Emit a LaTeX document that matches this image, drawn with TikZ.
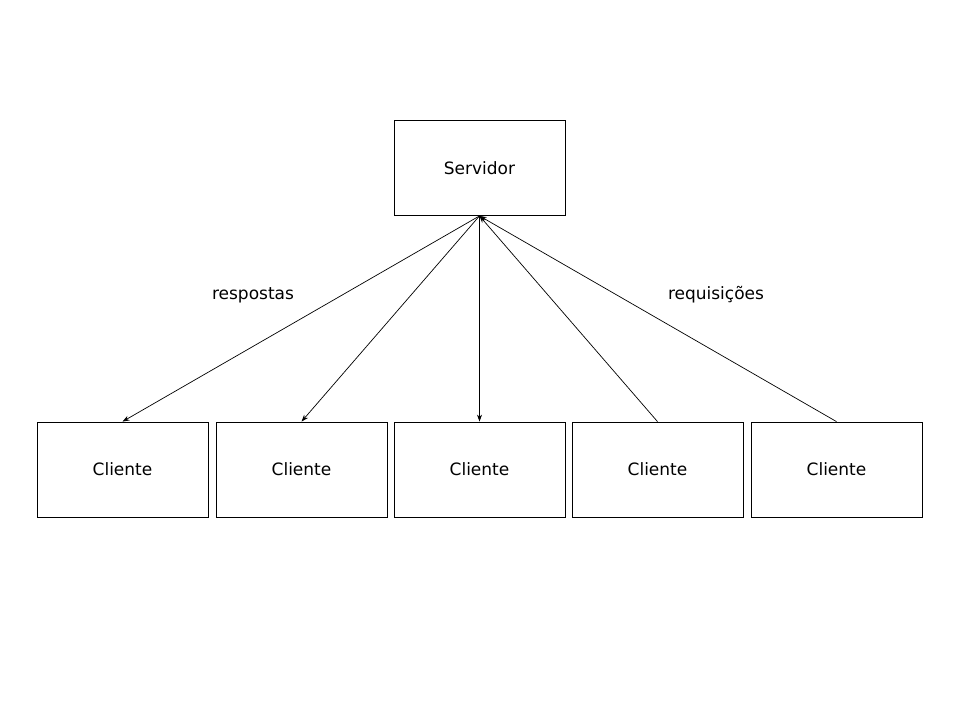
\documentclass[tikz,border=0pt]{standalone}
\usepackage{fontspec}
\setmainfont{DejaVu Sans}
\usetikzlibrary{arrows.meta}
\begin{document}
\begin{tikzpicture}[x=1pt,y=-1pt,
  box/.style={draw,line width=0.8pt,minimum width=171pt,minimum height=95pt,inner sep=0pt,font=\fontsize{17}{20}\selectfont},
  lbl/.style={font=\fontsize{17}{20}\selectfont},
  conn/.style={line width=0.7pt,-{Stealth[length=7pt,width=5pt]}}]
\useasboundingbox (0,0) rectangle (960,720);
\node[box] (srv) at (479.5,168) {Servidor};
\node[box] (c1) at (122.5,469.5) {Cliente};
\node[box] (c2) at (301.5,469.5) {Cliente};
\node[box] (c3) at (479.5,469.5) {Cliente};
\node[box] (c4) at (657.5,469.5) {Cliente};
\node[box] (c5) at (836.5,469.5) {Cliente};
\draw[conn] (srv.south) -- (c1.north);
\draw[conn] (srv.south) -- (c2.north);
\draw[conn] (srv.south) -- (c3.north);
\draw[conn] (c4.north) -- (srv.south);
\draw[conn] (c5.north) -- (srv.south);
\node[lbl] (resp) at (253,295) {respostas};
\node[lbl] (req) at (716,295) {requisições};
\end{tikzpicture}
\end{document}
